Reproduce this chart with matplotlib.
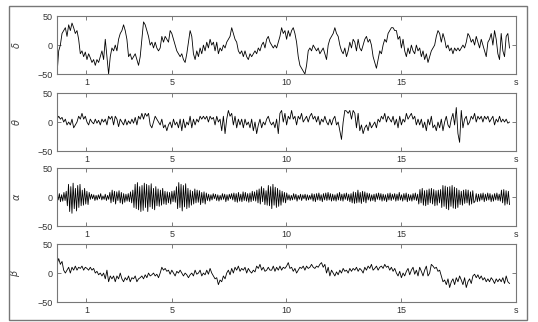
import numpy as np
import matplotlib
matplotlib.use("Agg")
import matplotlib.pyplot as plt
from matplotlib.patches import Rectangle

plt.rcParams['font.family'] = ['Liberation Sans', 'DejaVu Sans']

# EEG bands, values in microvolts (uniform sampling over t_end seconds)
t_end = 19.72
band_names = [r'$\delta$', r'$\theta$', r'$\alpha$', r'$\beta$']
xtick_pos = [1.28, 5, 10, 15, 20]
xtick_labels = ['1', '5', '10', '15', 's']
ytick_vals = [-50, 0, 50]

delta = [-50, -10, 0, 20, 25, 30, 15, 35, 25, 38, 30, 20, 25, 10, -15, -10, -20, -12, -25, -15,
         -22, -30, -25, -35, -25, -30, -20, -10, -25, 10, -20, -50, -20, -5, -10, 0, -10, 10, 20, 25,
         35, 25, 10, -20, -15, -25, -20, -15, -25, -35, -20, 10, 40, 35, 25, 15, 0, 5, -5, 5,
         -5, -10, -5, 15, 5, 15, 10, 5, 25, 20, 10, 0, -10, -15, -20, -15, -25, -30, -15, 5,
         25, 15, -15, -25, -10, -20, -5, -15, 0, -10, 5, -5, 10, 0, 5, -10, 5, -15, -5, -10,
         0, -5, 5, 10, 15, 30, 20, 10, 5, -10, -15, -10, -20, -10, -20, -25, -15, -20, -15, -10,
         -15, -5, -10, 0, 5, -5, 10, 15, 5,
         0, -5, 0, -5, 5, 15, 30, 20, 25, 10, 25, 15, 25, 30, 20, 5, -20, -35, -40, -45,
         -50, -35, -10, -5, -10, 0, -5, -10, -5, -15, -10, -5, -15, -25, 0, 10, 15, 20, 30, 20,
         15, 0, -10, -15, -5, -20, -10, 5, -5, 10, 5, -10, 10, -5, -10, 0, 10, 15, 5, 10,
         0, -20, -30, -40, -25, -10, -15, 0, 10, 5, 20, 25, 30, 30, 25, 25, 10, 15, -5, 10,
         -10, -20, -5, -15, 0, -10, -15, 0, -10, -5, -20, -10, -25, -15, -30, -20, -10, -5, 0, 15,
         25, 20, 5, 20, 10, -5, 0, -10, -5, -15, -5, -10, -5, -10, -5, 0, -5, 5, 20, 15,
         5, 10, 0, 15, 5, -5, 10, 0, -10, -20, 5, 10, 20, 0, 25, 10, -15, -25, 20, -10,
         -20, 15, 20, -5]

theta = [5, 10, 5, 8, 0, 5, -5, 0, -5, 5, -10, -5, 0, 10, 5, 15, 5, 10, 0, -5,
         5, 0, -3, 5, -2, 3, -5, 5, 0, 5, -5, 10, 5, 10, -5, 10, 5, -8, 5, 0,
         -5, 5, -5, 2, -3, 5, -2, 8, -5, 10, 5, 15, 5, 15, 10, 15, -5, -10, 0, 10,
         5, 0, -5, 5, -10, -5, -15, -5, 0, -10, 5, -5, 0, -10, 5, -15, 5, -10, 0, -5,
         10, -10, 5, -5, 5, 0, 10, 5, 10, 5, 10, 0, 10, 5, 8, -5, 10, 0, 5, -15,
         10, -20, 5, 20, 10, 15, -5, 10, -10, 5, -5, 5, -10, 5, -5, 0, -10, 5, -15, 0,
         -20, -5, 5, -10, 0, -5, 5, 10, 0,
         -5, 0, -10, 5, -20, 15, 20, 0, 15, -5, 10, 5, 20, 5, 10, -5, 10, 5, 15, 0,
         5, 10, 0, 10, 15, 5, 10, 0, 10, -5, 5, 0, 10, 0, -5, 5, -5, 5, 10, -5,
         0, -15, -30, 0, 20, 19, 15, 20, 5, 20, 15, -10, 15, -15, -5, -20, -10, -5, -15, 0,
         -10, -5, 0, -10, 5, 0, 10, 5, 15, 0, 10, 5, 0, 10, -5, 5, -10, 10, -5, 5,
         0, 15, 5, 10, 15, 5, 10, -5, 5, -5, 5, -10, 0, -15, 5, -5, 10, -10, -5, -15,
         0, -10, 5, -15, 0, 10, -5, -10, 5, 15, -5, 25, -20, -35, 20, -10, 5, 10, -5, 0,
         10, 5, 15, 0, 10, 5, 10, 0, 10, 5, 10, 0, 5, 10, -5, 5, 0, 10, 0, 5,
         0, 5, -2, 0]

alpha = [3, -5, 6, -8, 4, -7, 8, -6, 10,
         -15, 22, -25, 18, -28, 24, -20, 15, -24, 20, -18, 22, -15, 12,
         -14, 15, -12, 10, -13, 8,
         -4, 5, -3, 4, -6, 3, -5, 4, -3, 6, -5, 2, -4, 5, -6, 3, -4,
         8, -10, 12, -8, 10, -12, 9, -6, 11, -10, 8, -12, 6, -9, 5,
         -7, 6, -8, 9, -10, 12,
         -18, 22, -20, 25, -22, 18, -25, 20, -23, 24, -18, 22, -25, 20, -17, 23, -20, 15, -22, 18,
         -15, 14, -16, 12, -14, 15, -12, 10, -13,
         9, -10, 8, -12, 10, -8, 11, -9,
         18, -20, 25, -18, 22, -24, 20, -17, 23, -20, 15, -18,
         12, -14, 10, -12, 14, -10, 12, -9, 11, -13, 8, -10, 9, -12, 7,
         -6, 5, -7, 4, -5, 6, -3, 5, -6, 4, -7, 3, -5, 6, -4, 5, -8, 4, -6, 5, -3, 6, -5,
         7, -8, 6, -9, 8, -7, 5, -8, 9, -6, 8, -7, 6, -9, 7, -8, 10, -6, 9, -7,
         12, -10, 14, -12, 18, -8, 15, -13, 11, -14,
         20, -15, 18, -20, 22, -14, 17, -18, 15, -16, 12, -14,
         10, -9, 8, -10, 7,
         -5, 4, -6, 3, -5, 6, -4, 5, -7, 3, -4, 5, -6, 4, -3, 5, -6, 4, -5, 3, -4,
         6, -7, 5, -8, 6, -5, 7, -6, 4, -8, 6, -5, 7, -6, 8, -5, 6, -7, 5, -6,
         4, -7, 6, -5, 8, -6, 5, -7, 6, -4, 7, -6, 5, -8, 6,
         -10, 9, -11, 8, -10, 12, -9, 8, -11, 10, -8, 9, -10, 7,
         -5, 6, -7, 4, -6, 5, -8, 6, -4, 7, -5, 6, -7, 5, -6, 4, -8, 6, -5, 7, -6, 5,
         -4, 6, -7, 5, -6, 8, -5, 4, -7, 6, -5, 7, -8, 5, -6, 4, -7, 6, -5, 7, -6, 5,
         -12, 13, -10, 15, -14, 11, -15, 12, -13, 14, -10, 15, -12, 13, -15, 11, -14, 12, -10, 13,
         -18, 20, -16, 19, -20, 17, -22, 18, -16, 20, -19, 17, -20, 15, -18,
         12, -13, 10, -14, 12, -11, 13, -10, 12, -14, 9, -12, 11, -10,
         -7, 6, -8, 5, -7, 6, -5, 7, -8, 5, -6, 7, -5, 6, -8, 4, -7, 6, -5, 7, -6, 5, -7,
         12, -10, 13, -14, 11, -12, 10, -13]

beta = [15, 25, 15, 20, 5, 0, 5, 10, 0, 10, 5, 12, 5, 10, 8, 12, 5, 10, 8, 5,
        10, 5, 8, 0, 3, -3, 0, -5, 0, -10, 5, -15, -5, -10, -5, -15, -5, -10, 0, -10,
        -15, -8, -12, -5, -15, -8, -10, -5, -15, -10, -8, -5, -10, -3, -8, 0, -5, -3, 0, -5,
        -2, -8, 0, 10, 5, 8, 3, 5, -2, 5, 0, -5, 3, 0, 5, 0, -5, 0, -3, -8,
        -3, 0, -5, 5, -2, 0, 5, -5, 0, -3, 5, -2, 8, 0, -5, -10, -8, -20, -12, -15,
        -5, -10, 0, 5, -3, 8, 0, 10, 5, 12, 3, 8, 5, 10, 0, 8, 3, 0, 5, 2,
        12, 8, 15, 5, 10, 3, 5, 10, 5,
        5, 12, 3, 10, 5, 12, 5, 10, 8, 12, 18, 8, 10, 3, 8, 0, 5, 10, 8, 12,
        5, 12, 8, 10, 15, 10, 8, 12, 10, 15, 18, 10, 15, 0, 10, -5, 5, 0, -5, 2,
        -3, 5, 0, 8, 3, 5, 0, 8, 3, 8, 5, 10, 3, 8, 5, 0, 10, 5, 12, 8,
        15, 5, 8, 12, 5, 10, 12, 8, 15, 10, 12, 5, 10, 3, 8, 0, -5, 3, -8, 0,
        -5, 3, 8, -3, 5, 10, -2, 5, -5, 10, 3, -5, 5, 12, -5, 0, 15, 12, 8, 10,
        3, 5, -5, -15, -12, -20, -10, -25, -15, -10, -20, -8, -15, -5, -12, -20, -8, -25, -15, -10,
        -18, -5, -2, -8, -3, -10, -5, -12, -8, -15, -10, -15, -8, -12, -18, -10, -15, -10, -15, -8,
        -18, -5, -15, -18]

series = [delta, theta, alpha, beta]

fig = plt.figure(figsize=(5.38, 3.22), dpi=100)

# outer frame around the whole figure
fig.patches.append(Rectangle((0.0167, 0.006), 0.963, 0.975, transform=fig.transFigure,
                             fill=False, edgecolor='#777777', linewidth=1.0))

bottoms = [0.770, 0.531, 0.298, 0.062]
for name, vals, y0 in zip(band_names, series, bottoms):
    ax = fig.add_axes([0.106, y0, 0.853, 0.180])
    t = np.linspace(0, t_end, len(vals))
    ax.plot(t, vals, color='black', linewidth=0.6)
    ax.set_xlim(0, 20)
    ax.set_ylim(-50, 50)
    ax.set_xticks(xtick_pos)
    ax.set_xticklabels(xtick_labels)
    ax.set_yticks(ytick_vals)
    ax.set_yticklabels(['\u221250', '0', '50'])
    ax.tick_params(direction='in', length=3, width=0.6, top=True, right=True,
                   labelsize=6.5, pad=3, color='#666666', labelcolor='#333333')
    for sp in ax.spines.values():
        sp.set_color('#777777')
        sp.set_linewidth(0.8)
    ax.set_ylabel(name, fontsize=7, color='#444444', rotation=90)
    ax.yaxis.set_label_coords(-0.076, 0.5)

fig.savefig('out.png', dpi=100)
